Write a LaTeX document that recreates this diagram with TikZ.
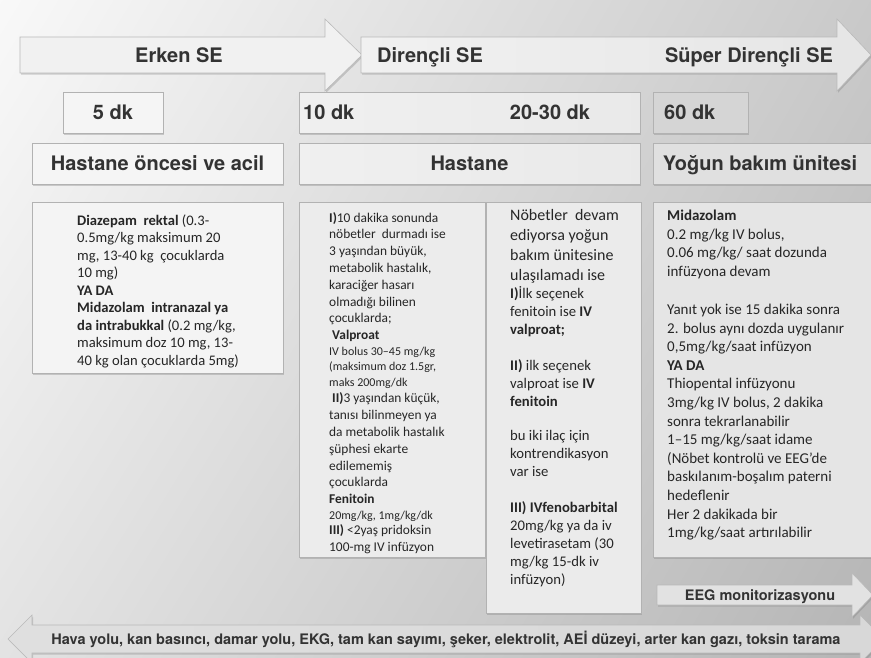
\documentclass[tikz,border=0pt]{standalone}
\usepackage{fontspec}
\newfontfamily\hdfont{TeX Gyre Heros}
\newfontfamily\bxfont{Carlito}
\usetikzlibrary{shadows,shadings,positioning}

\newcommand\smallnote{\fontsize{12}{15}\selectfont}
\newcommand\bignote{\fontsize{16}{19.8}\selectfont}

\tikzset{
  softshadow/.style={drop shadow={shadow xshift=1.2pt, shadow yshift=-1.6pt, opacity=0.35}},
  stagearrow/.style={draw=gray!55, line width=0.6pt, softshadow},
  phasebox/.style={draw=gray!60, line width=0.6pt, softshadow, inner sep=0pt, outer sep=0pt, anchor=north west},
  hdtext/.style={font=\hdfont\bfseries\fontsize{20}{24}\selectfont, text=black!80, inner sep=0pt, text height=14.4pt, text depth=0pt},
  bartext/.style={font=\hdfont\bfseries\fontsize{14.5}{17}\selectfont, text=black!80, inner sep=0pt, text height=10.4pt, text depth=0pt},
  notetext/.style={text=black!85, align=left, inner sep=0pt, anchor=north west},
}

\begin{document}
\begin{tikzpicture}[x=1pt, y=-1pt]
  \useasboundingbox (0,0) rectangle (871,657);
  \clip (0,0) rectangle (871,657);
  \shade[upper left=gray!5, upper right=gray!42, lower left=gray!22, lower right=gray!58] (0,0) rectangle (871,657);

  \draw[stagearrow, fill=gray!11] (20,37) -- (325,37) -- (325,19) -- (362,55) -- (325,91) -- (325,73) -- (20,73) -- cycle;
  \draw[stagearrow, left color=gray!11, right color=gray!20] (361,37) -- (837,37) -- (837,19) -- (871,55) -- (837,91) -- (837,73) -- (361,73) -- cycle;
  \node[hdtext] (erken) at (179,55) {Erken SE};
  \node[hdtext, anchor=west] (direncli) at (377,55) {Dirençli SE};
  \node[hdtext] (super) at (749,55) {Süper Dirençli SE};

  \node[phasebox, hdtext, fill=gray!8, minimum width=100, minimum height=41] (b5) at (63,92) {5 dk};
  \node[phasebox, left color=gray!12, right color=gray!17, minimum width=341, minimum height=41] (b10) at (299,92) {};
  \node[hdtext, right=4pt of b10.west] (t10) {10 dk};
  \node[hdtext] (t20) at (550,112.5) {20-30 dk};
  \node[phasebox, fill=gray!33, minimum width=95, minimum height=41] (b60) at (653,92) {};
  \node[hdtext, right=11pt of b60.west] (t60) {60 dk};

  \node[phasebox, hdtext, fill=gray!8, minimum width=251, minimum height=41] (bpre) at (32,143) {Hastane öncesi ve acil};
  \node[phasebox, hdtext, left color=gray!12, right color=gray!17, minimum width=341, minimum height=41] (bhos) at (299,143) {Hastane};
  \node[phasebox, fill=gray!24, minimum width=230, minimum height=41] (bicu) at (653,143) {};
  \node[hdtext] (ticu) at (760,163.5) {Yoğun bakım ünitesi};

  \node[phasebox, fill=gray!9, minimum width=251, minimum height=171] (npre) at (32,202) {};
  \node[phasebox, fill=gray!15, minimum width=186, minimum height=355] (nhos1) at (299,202) {};
  \node[phasebox, fill=gray!16, minimum width=155, minimum height=411] (nhos2) at (486,202) {};
  \node[phasebox, fill=gray!20, minimum width=230, minimum height=355] (nicu) at (653,202) {};

  \node[notetext, font=\bxfont\fontsize{14.6}{17.5}\selectfont] (tpre) at (77,214.5) {%
    \textbf{Diazepam\ \ rektal} (0.3-\\
    0.5mg/kg maksimum 20\\
    mg, 13-40 kg\ \ çocuklarda\\
    10 mg)\\
    \textbf{YA DA}\\
    \textbf{Midazolam\ \ intranazal ya}\\
    \textbf{da intrabukkal} (0.2 mg/kg,\\
    maksimum doz 10 mg, 13-\\
    40 kg olan çocuklarda 5mg)};

  \node[notetext, font=\bxfont\fontsize{13.4}{16.8}\selectfont] (thos1) at (329,212) {%
    \textbf{I)}10 dakika sonunda\\
    nöbetler\ \ durmadı ise\\
    3 yaşından büyük,\\
    metabolik hastalık,\\
    karaciğer hasarı\\
    olmadığı bilinen\\
    çocuklarda;\\
    \hspace*{3pt}\textbf{Valproat}\\[-1pt]
    {\smallnote IV bolus 30–45 mg/kg}\\[-1.5pt]
    {\smallnote (maksimum doz 1.5gr,}\\[-1.5pt]
    {\smallnote maks 200mg/dk}\\
    \hspace*{3pt}\textbf{II)}3 yaşından küçük,\\
    tanısı bilinmeyen ya\\
    da metabolik hastalık\\
    şüphesi ekarte\\
    edilememiş\\
    çocuklarda\\
    \textbf{Fenitoin}\\[-1pt]
    {\smallnote 20mg/kg, 1mg/kg/dk}\\[-1.5pt]
    \textbf{III)} <2yaş pridoksin\\
    100-mg IV infüzyon};

  \node[notetext, font=\bxfont\fontsize{14.7}{18}\selectfont] (thos2) at (510,209.5) {%
    {\bignote Nöbetler\ \ devam}\\[1.8pt]
    {\bignote ediyorsa yoğun}\\[1.8pt]
    {\bignote bakım ünitesine}\\[1.8pt]
    {\bignote ulaşılamadı ise}\\
    \textbf{I)}İlk seçenek\\
    fenitoin ise \textbf{IV}\\
    \textbf{valproat;}\\[18pt]
    \textbf{II)} ilk seçenek\\
    valproat ise \textbf{IV}\\
    \textbf{fenitoin}\\[16pt]
    bu iki ilaç için\\
    kontrendikasyon\\
    var ise\\[18pt]
    \textbf{III) IVfenobarbital}\\
    20mg/kg ya da iv\\
    levetirasetam (30\\
    mg/kg 15-dk iv\\
    infüzyon)};

  \node[notetext, font=\bxfont\fontsize{15}{18.6}\selectfont] (ticu2) at (667,210) {%
    \textbf{Midazolam}\\
    0.2 mg/kg IV bolus,\\
    0.06 mg/kg/ saat dozunda\\
    infüzyona devam\\[19.4pt]
    Yanıt yok ise 15 dakika sonra\\
    2. bolus aynı dozda uygulanır\\
    0,5mg/kg/saat infüzyon\\
    \textbf{YA DA}\\
    Thiopental infüzyonu\\
    3mg/kg IV bolus, 2 dakika\\
    sonra tekrarlanabilir\\
    1–15 mg/kg/saat idame\\
    (Nöbet kontrolü ve EEG’de\\
    baskılanım-boşalım paterni\\
    hedeflenir\\
    Her 2 dakikada bir\\
    1mg/kg/saat artırılabilir};

  \draw[stagearrow, fill=gray!23] (657,585) -- (852,585) -- (852,573) -- (873,595) -- (852,617) -- (852,605) -- (657,605) -- cycle;
  \node[bartext] (teeg) at (760,595) {EEG monitorizasyonu};

  \draw[stagearrow, left color=gray!25, right color=gray!31] (8,639) -- (32,615) -- (32,625) -- (860,625) -- (860,615) -- (884,639) -- (860,663) -- (860,653) -- (32,653) -- (32,663) -- cycle;
  \node[bartext] (tbase) at (446,639) {Hava yolu, kan basıncı, damar yolu, EKG, tam kan sayımı, şeker, elektrolit, AEİ düzeyi, arter kan gazı, toksin tarama};
\end{tikzpicture}
\end{document}
